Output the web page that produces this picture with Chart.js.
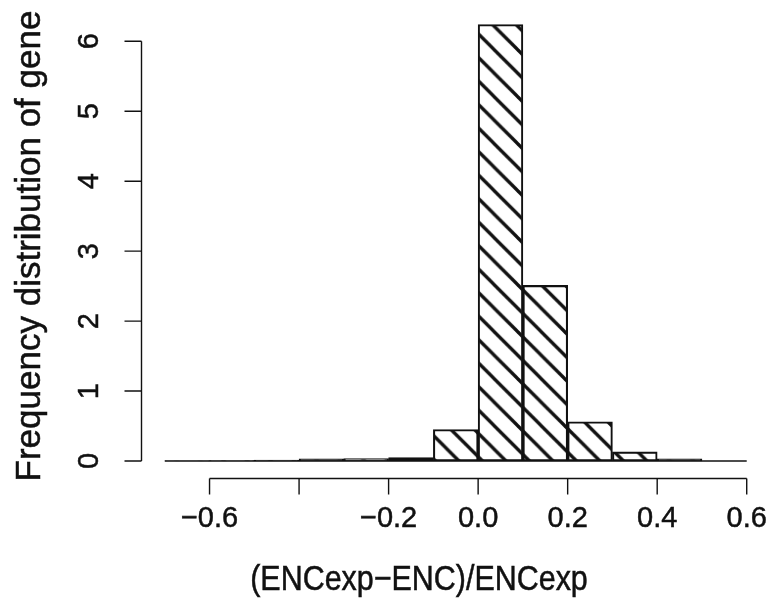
<!DOCTYPE html>
<html>
<head>
<meta charset="utf-8">
<script src="https://cdn.jsdelivr.net/npm/chart.js@4/dist/chart.umd.min.js"></script>
<style>
  html, body { margin: 0; padding: 0; background: #fff; }
  #c { display: block; }
</style>
</head>
<body>
<canvas id="c" width="774" height="605"></canvas>
<script>
// Histogram of (ENCexp-ENC)/ENCexp, bins of width 0.1
const binStart = [-0.7, -0.6, -0.5, -0.4, -0.3, -0.2, -0.1, 0.0, 0.1, 0.2, 0.3, 0.4, 0.5];
const binWidth = 0.1;
const frequency = [0.002, 0.005, 0.015, 0.03, 0.035, 0.05, 0.45, 6.24, 2.51, 0.56, 0.13, 0.03, 0];

const xTicks = [-0.6, -0.4, -0.2, 0.0, 0.2, 0.4, 0.6];
const xTickLabels = ['\u22120.6', '', '\u22120.2', '0.0', '0.2', '0.4', '0.6'];
const yTicks = [0, 1, 2, 3, 4, 5, 6];
const yTickLabels = ['0', '1', '2', '3', '4', '5', '6'];

const xTitle = '(ENCexp\u2212ENC)/ENCexp';
const yTitle = 'Frequency distribution of gene';

const FONT = '"Liberation Sans", Arial, Helvetica, sans-serif';

// Diagonal hatch fill ("\" direction)
function makeHatch() {
  const T = 24;
  const tile = document.createElement('canvas');
  tile.width = T; tile.height = T;
  const g = tile.getContext('2d');
  g.strokeStyle = '#111';
  g.lineWidth = 3.4;
  g.lineCap = 'square';
  g.beginPath();
  for (const k of [-1, 0, 1]) {
    g.moveTo(-2 + k * T, -2);
    g.lineTo(T + 2 + k * T, T + 2);
  }
  g.stroke();
  const p = document.createElement('canvas').getContext('2d').createPattern(tile, 'repeat');
  if (p.setTransform && window.DOMMatrix) {
    p.setTransform(new DOMMatrix().translate(0, 2).scale(23.5 / T, 23.5 / T));
  }
  return p;
}

const points = binStart.map((s, i) => ({ x: s + binWidth / 2, y: frequency[i] }));

// text with a hairline outline so it reads as heavy as the axis lines
function text(ctx, str, x, y) {
  ctx.fillText(str, x, y);
  ctx.strokeText(str, x, y);
}

// Axes, tick marks, tick labels and titles drawn in base-graphics style
const axisPlugin = {
  id: 'axisPlugin',
  afterDraw(chart) {
    const ctx = chart.ctx;
    const xs = chart.scales.x, ys = chart.scales.y;
    const area = chart.chartArea;
    ctx.save();
    ctx.strokeStyle = '#111';
    ctx.fillStyle = '#111';
    ctx.lineWidth = 1.4;

    // baseline under the bins
    const y0 = ys.getPixelForValue(0);
    ctx.beginPath();
    ctx.moveTo(xs.getPixelForValue(binStart[0]), y0);
    ctx.lineTo(xs.getPixelForValue(binStart[binStart.length - 1] + binWidth), y0);
    ctx.stroke();

    // x axis
    const xa = area.bottom;
    ctx.beginPath();
    ctx.moveTo(xs.getPixelForValue(xTicks[0]), xa);
    ctx.lineTo(xs.getPixelForValue(xTicks[xTicks.length - 1]), xa);
    xTicks.forEach(v => {
      const px = xs.getPixelForValue(v);
      ctx.moveTo(px, xa);
      ctx.lineTo(px, xa + 16);
    });
    ctx.stroke();

    ctx.lineWidth = 0.5;
    ctx.font = '29px ' + FONT;
    ctx.textAlign = 'center';
    ctx.textBaseline = 'alphabetic';
    xTicks.forEach((v, i) => {
      text(ctx, xTickLabels[i], xs.getPixelForValue(v), 527);
    });

    // y axis
    ctx.lineWidth = 1.4;
    const ya = area.left;
    ctx.beginPath();
    ctx.moveTo(ya, ys.getPixelForValue(yTicks[0]));
    ctx.lineTo(ya, ys.getPixelForValue(yTicks[yTicks.length - 1]));
    yTicks.forEach(v => {
      const py = ys.getPixelForValue(v);
      ctx.moveTo(ya, py);
      ctx.lineTo(ya - 17, py);
    });
    ctx.stroke();
    ctx.lineWidth = 0.5;
    yTicks.forEach((v, i) => {
      ctx.save();
      ctx.translate(98, ys.getPixelForValue(v));
      ctx.rotate(-Math.PI / 2);
      ctx.textAlign = 'center';
      text(ctx, yTickLabels[i], 0, 0);
      ctx.restore();
    });

    // axis titles
    ctx.save();
    ctx.font = '35px ' + FONT;
    ctx.translate(419, 590);
    ctx.scale(0.87, 1);
    ctx.textAlign = 'center';
    text(ctx, xTitle, 0, 0);
    ctx.restore();

    ctx.save();
    ctx.font = '35px ' + FONT;
    ctx.translate(40, 246);
    ctx.rotate(-Math.PI / 2);
    ctx.textAlign = 'center';
    text(ctx, yTitle, 0, 0);
    ctx.restore();

    ctx.restore();
  }
};

new Chart(document.getElementById('c'), {
  type: 'bar',
  data: {
    datasets: [{
      data: points,
      backgroundColor: makeHatch(),
      borderColor: '#111',
      borderWidth: 1.4,
      borderSkipped: false,
      barPercentage: 1,
      categoryPercentage: 1
    }]
  },
  options: {
    responsive: false,
    devicePixelRatio: 1,
    animation: false,
    events: [],
    layout: { padding: { top: 7, right: 4, left: 0, bottom: 0 } },
    plugins: { legend: { display: false }, tooltip: { enabled: false } },
    scales: {
      x: {
        type: 'linear',
        offset: false,
        min: -0.752,
        max: 0.652,
        grid: { display: false, offset: false },
        border: { display: false },
        ticks: { display: false },
        afterFit(s) { s.height = 126.5; }
      },
      y: {
        type: 'linear',
        min: -0.2496,
        max: 6.4896,
        grid: { display: false },
        border: { display: false },
        ticks: { display: false },
        afterFit(s) { s.width = 141.5; }
      }
    }
  },
  plugins: [axisPlugin]
});
</script>
</body>
</html>
